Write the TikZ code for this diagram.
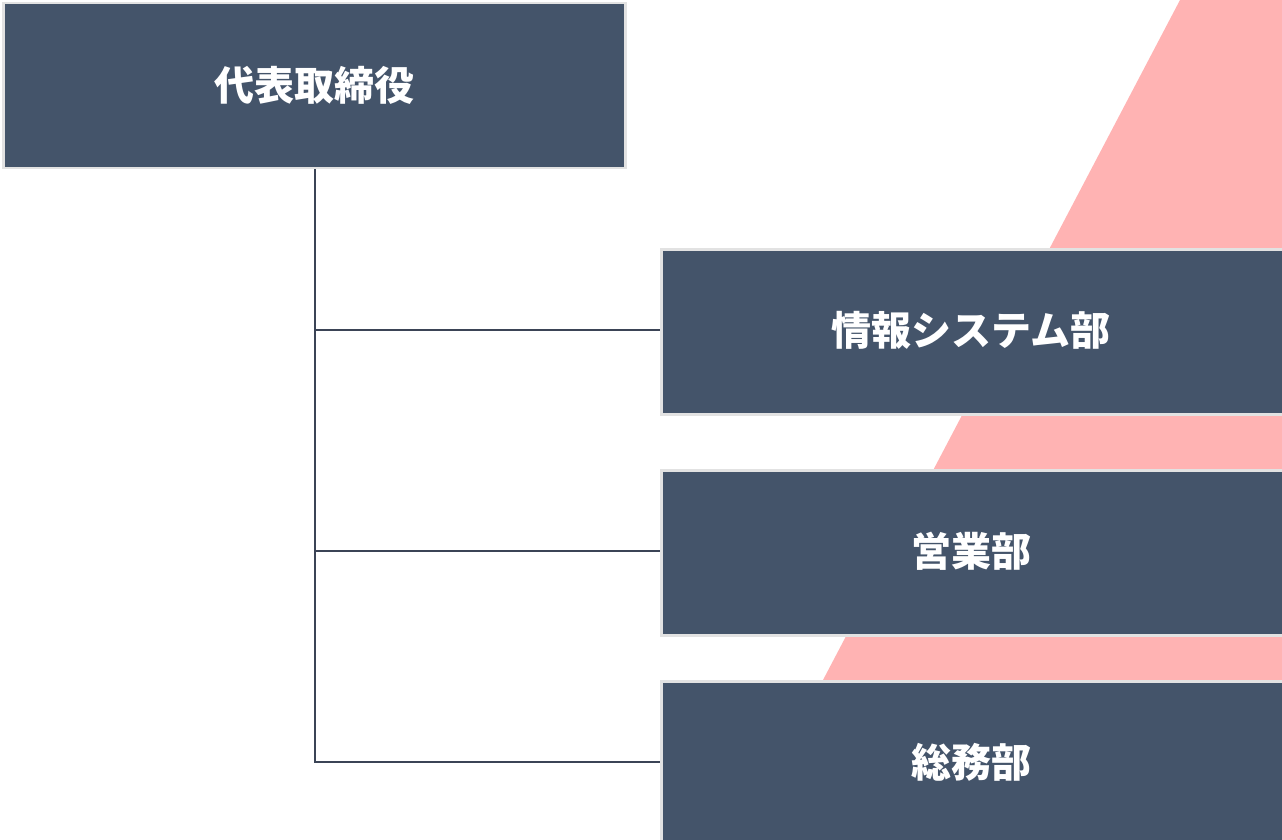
\documentclass[tikz,border=0pt]{standalone}
\usepackage{fontspec}
\newfontfamily\cjk{Noto Sans CJK JP}
\definecolor{boxfill}{HTML}{44546A}
\definecolor{boxedge}{HTML}{E2E2E2}
\definecolor{pinkbg}{HTML}{FFB3B3}
\definecolor{linecol}{HTML}{3B4456}
\tikzset{
  orgbox/.style={draw=boxedge, line width=2.5pt, fill=boxfill, text=white, inner sep=0pt,
    font=\cjk\bfseries\fontsize{40}{46}\selectfont},
  boxtext/.style={text=white, font=\cjk\bfseries\fontsize{40}{46}\selectfont},
  conn/.style={draw=linecol, line width=2.6pt}
}
\begin{document}
\begin{tikzpicture}[x=1pt,y=-1pt]
\useasboundingbox (0,0) rectangle (1282,840);
\fill[pinkbg] (1180,0) -- (1282,0) -- (1282,840) -- (739,840) -- cycle;
\node[orgbox, minimum width=622pt, minimum height=165pt] (ceo) at (314.5,85.5) {代表取締役};
\node[orgbox, minimum width=623pt, minimum height=165pt, anchor=north west] (is) at (660,248) {};
\node[orgbox, minimum width=623pt, minimum height=165pt, anchor=north west] (sales) at (660,469) {};
\node[orgbox, minimum width=623pt, minimum height=165pt, anchor=north west] (ga) at (660,680) {};
\node[boxtext] (istext) at (971,330) {情報システム部};
\node[boxtext] (salestext) at (971,551) {営業部};
\node[boxtext] (gatext) at (971,762) {総務部};
\coordinate (top) at (315,169);
\draw[conn] (top) |- (is.west |- 0,330);
\draw[conn] (top) |- (sales.west |- 0,551);
\draw[conn] (top) |- (ga.west |- 0,762);
\end{tikzpicture}
\end{document}
